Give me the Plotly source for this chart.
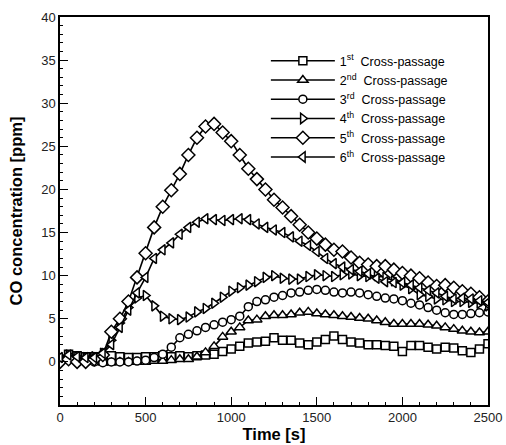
import plotly.graph_objects as go

time_s = [0, 50, 100, 150, 200, 250, 300, 350, 400, 450, 500, 550, 600, 650, 700, 750, 800, 850, 900, 950,
          1000, 1050, 1100, 1150, 1200, 1250, 1300, 1350, 1400, 1450, 1500, 1550, 1600, 1650, 1700, 1750,
          1800, 1850, 1900, 1950, 2000, 2050, 2100, 2150, 2200, 2250, 2300, 2350, 2400, 2450, 2500]

cp1 = [0.3, 0.9, 0.7, 0.6, 0.6, 0.6, 0.7, 0.6, 0.5, 0.5, 0.6, 0.6, 0.7, 0.6, 0.7, 0.6, 0.7, 0.8, 0.9, 1.2,
       1.5, 1.8, 2.2, 2.3, 2.4, 2.8, 2.5, 2.5, 2.2, 2.0, 2.3, 2.6, 3.0, 2.6, 2.3, 2.2,
       2.0, 2.0, 1.9, 1.8, 1.2, 1.9, 1.9, 1.7, 1.5, 1.7, 1.6, 1.3, 1.1, 1.5, 2.1]
cp2 = [0.1, 0.3, 0.2, 0.1, 0.0, -0.1, -0.1, 0.0, 0.0, 0.0, 0.0, 0.1, 0.1, 0.2, 0.3, 0.3, 0.6, 1.1, 1.8, 2.9,
       3.5, 4.0, 4.8, 4.9, 5.3, 5.4, 5.4, 5.5, 5.7, 5.8, 5.6, 5.5, 5.4, 5.3, 5.2, 5.1,
       5.0, 4.8, 4.6, 4.4, 4.4, 4.4, 4.4, 4.3, 4.2, 4.0, 3.8, 3.6, 3.5, 3.4, 3.5]
cp3 = [0.2, 0.4, 0.3, 0.2, 0.0, -0.1, 0.0, 0.0, 0.0, 0.1, 0.2, 0.5, 0.9, 1.7, 2.8, 3.2, 3.6, 4.0, 4.3, 4.6,
       4.9, 5.3, 6.4, 7.0, 7.2, 7.5, 7.7, 8.0, 8.1, 8.3, 8.4, 8.3, 8.1, 8.0, 8.1, 8.0,
       7.8, 7.6, 7.4, 7.3, 7.1, 6.8, 6.6, 6.3, 6.0, 5.7, 5.5, 5.5, 5.6, 5.7, 5.8]
cp4 = [0.5, 0.8, 0.6, 0.5, 0.6, 1.0, 2.5, 4.5, 6.3, 7.4, 7.7, 6.5, 5.3, 5.0, 4.9, 5.2, 5.8, 6.2, 6.8, 7.5,
       8.2, 8.6, 8.9, 9.3, 9.8, 10.0, 9.7, 9.6, 9.6, 9.9, 10.1, 10.0, 9.9, 10.1, 10.2, 10.0,
       9.9, 10.0, 9.8, 9.4, 8.9, 8.5, 7.8, 7.6, 7.3, 7.2, 7.0, 7.0, 6.9, 6.8, 6.5]
cp5 = [0.0, 0.3, 0.0, 0.0, 0.3, 0.8, 3.5, 5.0, 7.0, 9.8, 12.6, 15.6, 18.0, 19.9, 21.8, 24.0, 26.0, 27.3, 27.6, 26.6,
       25.6, 24.0, 22.4, 21.2, 20.0, 18.8, 17.9, 16.9, 15.9, 15.0, 14.3, 13.6, 13.0, 12.8, 12.1, 11.5,
       11.3, 11.1, 11.1, 10.7, 10.3, 10.0, 9.7, 9.2, 8.8, 8.9, 8.6, 8.2, 7.9, 7.5, 7.0]
cp6 = [0.5, 0.8, 0.6, 0.5, 0.5, 1.0, 2.0, 4.0, 6.0, 8.0, 9.8, 12.0, 13.0, 13.8, 14.8, 15.6, 16.2, 16.6, 16.5, 16.4,
       16.5, 16.6, 16.5, 16.0, 15.6, 15.3, 15.0, 14.5, 14.0, 13.5, 12.8, 12.0, 11.4, 11.0, 10.7, 10.5,
       10.2, 9.7, 9.3, 9.2, 9.2, 8.9, 8.6, 8.3, 8.0, 7.6, 7.3, 7.4, 7.3, 7.1, 6.9]

names = ["1<sup>st</sup>  Cross-passage", "2<sup>nd</sup>  Cross-passage", "3<sup>rd</sup>  Cross-passage",
         "4<sup>th</sup>  Cross-passage", "5<sup>th</sup>  Cross-passage", "6<sup>th</sup>  Cross-passage"]
series = [cp1, cp2, cp3, cp4, cp5, cp6]
symbols = ["square", "triangle-up", "circle", "triangle-right", "diamond", "triangle-left"]
sizes = [8, 9, 8, 9, 10, 9]

fig = go.Figure()
for name, ys, sym, sz in zip(names, series, symbols, sizes):
    fig.add_trace(go.Scatter(
        x=time_s, y=ys, mode="lines+markers", name=name,
        line=dict(color="black", width=1.6),
        marker=dict(symbol=sym, size=sz, color="white", line=dict(color="black", width=1.5)),
    ))

font_family = "Liberation Sans, Arial, sans-serif"
fig.update_layout(
    width=506, height=445,
    margin=dict(l=60, r=18, t=17, b=40),
    paper_bgcolor="white", plot_bgcolor="white",
    font=dict(family=font_family, color="black", size=13),
    showlegend=True,
    legend=dict(
        x=0.481, y=0.925, xanchor="left", yanchor="top",
        bgcolor="rgba(0,0,0,0)", borderwidth=0,
        font=dict(size=12.5, family=font_family, color="black"),
        itemwidth=64, tracegroupgap=0,
    ),
)
fig.update_xaxes(
    range=[0, 2500], tickvals=[0, 500, 1000, 1500, 2000, 2500],
    showline=True, linecolor="black", linewidth=1.5, mirror=True,
    ticks="inside", ticklen=8, tickwidth=1.3, tickcolor="black",
    minor=dict(dtick=100, ticks="inside", ticklen=3, tickcolor="black", tickwidth=1),
    showgrid=False, zeroline=False, automargin=False,
    tickfont=dict(size=13, color="#222"),
    title=dict(text="<b>Time [s]</b>", font=dict(size=16.5), standoff=3),
)
fig.update_yaxes(
    range=[-5, 40], tickvals=[0, 5, 10, 15, 20, 25, 30, 35, 40],
    showline=True, linecolor="black", linewidth=1.5, mirror=True,
    ticks="inside", ticklen=8, tickwidth=1.3, tickcolor="black",
    minor=dict(dtick=1, ticks="inside", ticklen=3, tickcolor="black", tickwidth=1),
    showgrid=False, zeroline=False, automargin=False,
    tickfont=dict(size=13, color="#222"),
    title=dict(text="<b>CO concentration [ppm]</b>", font=dict(size=16.5), standoff=14),
)

fig.write_html("out.html")
